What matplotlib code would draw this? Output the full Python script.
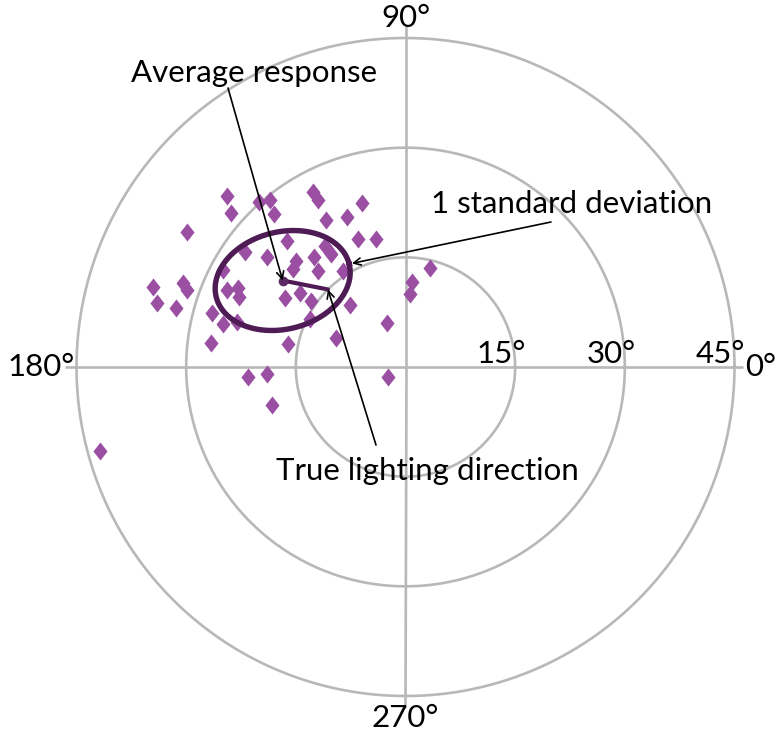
import numpy as np
import matplotlib
matplotlib.use("Agg")
import matplotlib.pyplot as plt

plt.rcParams['font.family'] = ['Lato', 'DejaVu Sans']

# ---- data (degrees; x = horizontal component, y = vertical component of response) ----
resp_x = [-24.46, -23.91, -29.93, -20.04, -18.49, -17.99, -12.65, -11.97, -5.99, -10.92,
          -8.00, -6.54, -3.99, -16.21, -11.01, -10.19, -12.45, -14.91, -15.39, -11.97,
          -8.59, -21.95, -18.99, -24.92, -30.39, -29.93, -34.50, -34.03, -31.39, -24.46,
          -22.87, -22.71, -16.48, -14.43, -12.99, -7.59, -26.51, -24.92, -23.05, -26.64,
          -16.03, -13.13, -9.57, -2.57, 0.89, 0.55, 3.35, -21.50, -18.99, -18.30,
          -2.35, -41.83]
resp_y = [23.39, 21.02, 18.42, 22.57, 22.84, 20.93, 23.94, 22.84, 22.43, 20.04,
          20.48, 17.44, 17.47, 17.30, 16.55, 15.46, 15.00, 14.50, 13.34, 13.13,
          13.13, 15.77, 15.00, 13.27, 11.45, 10.53, 10.94, 8.82, 8.03, 10.53,
          10.74, 9.64, 9.44, 10.12, 9.07, 8.48, 7.45, 5.84, 6.20, 3.24,
          3.08, 6.57, 3.93, 5.98, 11.67, 9.99, 13.54, -1.41, -1.00, -5.20,
          -1.41, -11.49]

avg_x, avg_y = -16.80, 11.83          # average response
true_az, true_slant = 135.0, 15.0      # true lighting direction (azimuth, slant)
sd_a, sd_b, sd_rot = 9.37, 6.65, 13.9  # 1 s.d. ellipse semi-axes (deg) and rotation (deg)

ring_values = [15, 30, 45]
ring_labels = ['15°', '30°', '45°']
axis_angles = [0, 90, 180, 270]
axis_labels = ['0°', '90°', '180°', '270°']

# ---- styles ----
GRID = '#b8b8b8'
DIAMOND = '#9a4fa3'
DARK = '#4e1b55'
FS = 22.5

W, H = 780, 735
fig = plt.figure(figsize=(W / 100, H / 100), dpi=100)
cx, cy, R = 405.5, 367.0, 329.0
ax = fig.add_axes([(cx - R) / W, (H - cy - R) / H, 2 * R / W, 2 * R / H], projection='polar')
ax.set_ylim(0, 45)
ax.set_axis_off()


def to_polar(x, y):
    x = np.asarray(x, float)
    y = np.asarray(y, float)
    return np.arctan2(y, x), np.hypot(x, y)


# grid rings
tt = np.linspace(0, 2 * np.pi, 721)
for rv in ring_values:
    ax.plot(tt, np.full_like(tt, rv), color=GRID, lw=1.9, zorder=1, clip_on=False)
# radial axes
for a in axis_angles:
    ax.plot([np.deg2rad(a)] * 2, [0, 46.2 if a == 0 else 46.6], color=GRID, lw=1.9,
            zorder=1, clip_on=False, solid_capstyle='butt')

# ring labels
for rv, lab in zip(ring_values, ring_labels):
    ax.annotate(lab, xy=(0, rv), xytext=(-14, 4), textcoords='offset pixels',
                ha='center', va='baseline', fontsize=FS, color='black')

# axis angle labels
ax.text(np.deg2rad(90), 47.7, axis_labels[1], ha='center', va='center', fontsize=FS)
ax.text(np.deg2rad(270), 48.0, axis_labels[3], ha='center', va='center', fontsize=FS)
ax.text(np.deg2rad(180), 45.3, axis_labels[2], ha='right', va='center', fontsize=FS)
ax.text(0, 46.5, axis_labels[0], ha='left', va='center', fontsize=FS)

# responses
diamond = [(0, 1), (0.78, 0), (0, -1), (-0.78, 0), (0, 1)]
th, rr = to_polar(resp_x, resp_y)
ax.plot(th, rr, linestyle='none', marker=diamond, ms=13, mfc=DIAMOND, mec='none', zorder=3)

# 1 s.d. ellipse
t = np.linspace(0, 2 * np.pi, 400)
phi = np.deg2rad(sd_rot)
ex = avg_x + sd_a * np.cos(t) * np.cos(phi) - sd_b * np.sin(t) * np.sin(phi)
ey = avg_y + sd_a * np.cos(t) * np.sin(phi) + sd_b * np.sin(t) * np.cos(phi)
eth, er = to_polar(ex, ey)
ax.plot(eth, er, color=DARK, lw=3.9, zorder=4)

# average response -> true lighting direction
avg_th, avg_r = to_polar(avg_x, avg_y)
true_th = np.deg2rad(true_az)
ax.plot([avg_th, true_th], [avg_r, true_slant], color=DARK, lw=3.0, zorder=4,
        solid_capstyle='round')
ax.plot([avg_th], [avg_r], marker='o', ms=7, color='#5c2a63', mec='none', zorder=5)

# annotations
arrow = dict(arrowstyle='->', lw=1.2, color='black', mutation_scale=13,
             shrinkA=0, shrinkB=0)


def fig_px(x, y):
    return (x, H - y)


ax.annotate('', xy=(avg_th, avg_r), xytext=fig_px(228, 88), textcoords='figure pixels',
            arrowprops=arrow, zorder=6)
vx = avg_x + 1.04 * sd_a * np.cos(phi)
vy = avg_y + 1.04 * sd_a * np.sin(phi)
vth, vr = to_polar(vx, vy)
ax.annotate('', xy=(vth, vr), xytext=fig_px(551, 222), textcoords='figure pixels',
            arrowprops=arrow, zorder=6)
ax.annotate('', xy=(true_th, true_slant), xytext=fig_px(376, 445), textcoords='figure pixels',
            arrowprops=arrow, zorder=6)

fig.text(254 / W, 1 - 82 / H, 'Average response', ha='center', va='baseline', fontsize=FS)
fig.text(572 / W, 1 - 213 / H, '1 standard deviation', ha='center', va='baseline', fontsize=FS)
fig.text(427 / W, 1 - 480 / H, 'True lighting direction', ha='center', va='baseline', fontsize=FS)

fig.savefig('out.png', dpi=100)
